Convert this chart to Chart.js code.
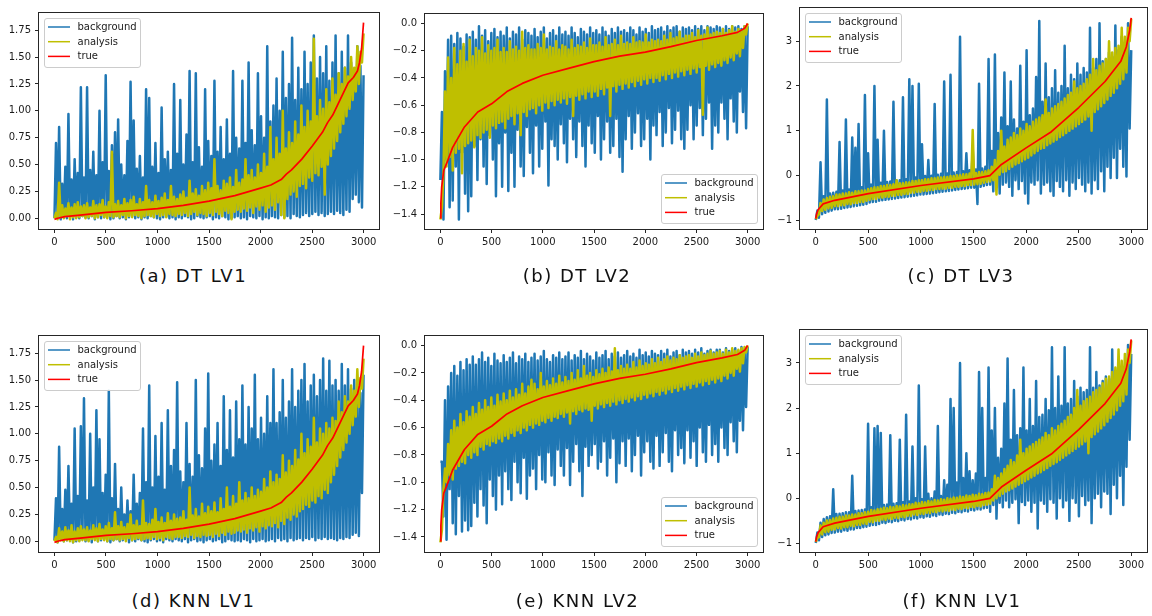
<!DOCTYPE html>
<html><head><meta charset="utf-8">
<script src="https://cdn.jsdelivr.net/npm/chart.js@4.4.1/dist/chart.umd.min.js"></script>
<style>
html,body{margin:0;padding:0;background:#fff;width:1152px;height:616px;overflow:hidden;position:relative;}
canvas{position:absolute;}
.cap{position:absolute;font-family:'DejaVu Sans',sans-serif;font-size:18px;line-height:18px;height:18px;white-space:nowrap;transform:translateX(-50%);color:#111;letter-spacing:1.5px;}
</style></head><body>
<script>
// ---------- tick labels / names ----------
const X_TICKS = [0, 500, 1000, 1500, 2000, 2500, 3000];
const LV1_TICKS = [0, 0.25, 0.5, 0.75, 1, 1.25, 1.5, 1.75];
const LV1_LABELS = ['0.00', '0.25', '0.50', '0.75', '1.00', '1.25', '1.50', '1.75'];
const LV2_TICKS = [-1.4, -1.2, -1.0, -0.8, -0.6, -0.4, -0.2, 0];
const LV2_LABELS = ['\u22121.4', '\u22121.2', '\u22121.0', '\u22120.8', '\u22120.6', '\u22120.4', '\u22120.2', '0.0'];
const LV3_TICKS = [-1, 0, 1, 2, 3];
const LV3_LABELS = ['\u22121', '0', '1', '2', '3'];
const SERIES_NAMES = ['background', 'analysis', 'true'];
const CAPTIONS = ['(a) DT LV1', '(b) DT LV2', '(c) DT LV3', '(d) KNN LV1', '(e) KNN LV2', '(f) KNN LV1'];

// ---------- true curves ----------
const TRUE_LV1_X = [0, 30, 100, 250, 500, 750, 1000, 1250, 1500, 1750, 2000, 2100, 2200, 2250, 2300, 2400, 2500, 2600, 2650, 2700, 2750, 2800, 2850, 2900, 2940, 2960, 2980, 2999];
const TRUE_LV1_Y = [-0.01, 0.0, 0.015, 0.03, 0.055, 0.07, 0.09, 0.12, 0.16, 0.21, 0.28, 0.31, 0.36, 0.41, 0.45, 0.55, 0.67, 0.80, 0.89, 0.96, 1.06, 1.16, 1.26, 1.31, 1.37, 1.45, 1.58, 1.82];
const TRUE_LV2_X = [0, 5, 13, 33, 60, 120, 235, 365, 500, 650, 800, 1000, 1250, 1500, 1750, 2000, 2250, 2500, 2750, 2900, 2970, 2999];
const TRUE_LV2_Y = [-1.43, -1.32, -1.20, -1.08, -1.03, -0.91, -0.76, -0.65, -0.59, -0.50, -0.44, -0.38, -0.33, -0.28, -0.24, -0.21, -0.17, -0.125, -0.09, -0.065, -0.035, 0.0];
const TRUE_LV3_X = [0, 8, 22, 70, 180, 500, 1000, 1500, 1655, 1765, 2000, 2240, 2500, 2750, 2900, 2952, 2985, 2999];
const TRUE_LV3_Y = [-0.96, -0.85, -0.76, -0.63, -0.55, -0.40, -0.22, -0.07, 0.0, 0.25, 0.62, 0.98, 1.52, 2.10, 2.55, 2.87, 3.25, 3.52];

// ---------- noisy series: alternating troughs (LOW) and crests (HIGH), read left to right ----------
// (a) DT LV1
const A_BG_LOW = [0.00,0.02,-0.01,0.01,0.00,0.02,-0.01,0.01,0.00,0.02, 0.01,0.00,0.02,-0.01,0.01,0.00,0.01,0.02,-0.01,0.00, 0.02,0.00,0.01,-0.01,0.01,0.02,0.00,0.01,-0.01,0.01, 0.00,0.02,0.01,0.00,-0.01,0.01,0.02,0.00,0.01,-0.01, 0.01,0.00,0.02,0.01,-0.01,0.00,0.02,0.01,0.00,0.01, 0.02,-0.01,0.01,0.00,0.02,0.01,-0.01,0.00,0.01,0.02, 0.00,0.01,-0.01,0.02,0.01,0.00,0.02,-0.01,0.01,0.00, 0.02,0.01,0.00,0.03,0.01,0.02,0.00,0.04,0.02,0.01, 0.03,0.05,0.02,0.04,0.06,0.03,0.05,0.02,0.04,0.06, 0.04,0.07,0.05,0.03,0.08,0.06,0.18,0.22,0.15,0.10];
const A_BG_HIGH = [0.70,0.85,0.32,0.48,0.97,0.36,0.55,0.42,1.22,0.38, 1.22,0.45,0.62,0.40,1.00,0.52,1.33,0.44,0.68,0.80, 0.92,0.50,0.40,0.72,1.27,0.91,0.46,0.58,0.38,1.20, 1.12,0.48,0.70,0.42,1.03,0.55,0.62,0.45,1.25,0.60, 1.10,0.50,0.78,1.37,0.52,1.35,0.66,0.48,1.20,0.72, 0.58,1.28,0.62,0.85,0.55,0.92,0.60,1.37,0.75,0.65, 1.28,0.70,1.45,0.82,0.68,1.35,0.95,0.75,1.60,0.90, 1.05,1.30,1.00,1.55,1.12,1.25,1.68,1.10,1.40,1.20, 1.55,1.25,1.45,1.70,1.30,1.50,1.35,1.60,1.28,1.45, 1.70,1.35,1.55,1.40,1.70,1.45,1.38,1.60,1.42,1.33];
const A_AN_LOW = [0.00,-0.01,0.01,0.00,0.02,-0.01,0.01,0.00,0.01,0.02, 0.00,0.01,0.02,0.00,0.01,0.03,0.01,0.00,0.02,0.01, 0.02,0.01,0.03,0.00,0.02,0.01,0.03,0.02,0.00,0.02, 0.03,0.02,0.01,0.04,0.02,0.03,0.01,0.04,0.03,0.02, 0.04,0.03,0.05,0.02,0.04,0.06,0.03,0.05,0.04,0.02, 0.05,0.03,0.06,0.04,0.02,0.07,0.05,-0.01,0.06,0.08, 0.06,0.09,0.07,0.10,0.05,0.11,0.08,0.12,0.06,0.10, 0.12,0.08,0.15,0.03,0.00,0.18,0.22,0.25,0.20,0.30, 0.32,0.28,0.38,0.35,0.42,0.40,0.48,0.22,0.50,0.58, 0.65,0.72,0.80,0.88,0.95,1.02,1.10,1.18,1.25,1.45];
const A_AN_HIGH = [0.05,0.33,0.12,0.09,0.14,0.10,0.13,0.15,0.11,0.12, 0.14,0.10,0.16,0.12,0.13,0.17,0.11,0.15,0.62,0.13, 0.16,0.12,0.18,0.14,0.17,0.20,0.13,0.18,0.15,0.30, 0.17,0.15,0.21,0.16,0.19,0.23,0.17,0.30,0.20,0.18, 0.22,0.25,0.19,0.35,0.23,0.27,0.21,0.30,0.26,0.33, 0.28,0.55,0.30,0.26,0.35,0.32,0.38,0.29,0.45,0.33, 0.36,0.55,0.40,0.45,0.38,0.50,0.42,0.60,0.48,0.85, 0.55,0.75,0.60,1.00,0.65,0.80,0.70,0.90,0.78,1.05, 0.85,1.00,0.90,1.67,0.95,1.10,1.02,1.20,1.08,1.30, 1.15,1.35,1.25,1.40,1.32,1.50,1.40,1.60,1.55,1.72];

// (b) DT LV2
const B_BG_LOW = [-1.15,-1.44,-1.00,-1.35,-1.30,-1.05,-1.44,-0.95,-1.25,-1.38, -1.27,-0.90,-1.15,-0.85,-1.05,-1.18,-0.82,-1.00,-1.27,-0.88, -1.20,-0.80,-1.23,-0.95,-1.20,-0.78,-1.05,-1.12,-0.76,-0.95, -1.10,-0.75,-1.05,-0.92,-0.72,-1.19,-0.85,-0.90,-1.00,-0.74, -0.88,-1.02,-0.70,-0.85,-0.98,-0.72,-0.90,-1.05,-0.75,-0.88, -0.95,-0.68,-1.00,-0.85,-0.72,-0.95,-0.90,-0.70,-0.98,-1.09, -0.85,-0.68,-0.92,-0.80,-0.66,-0.90,-0.85,-0.70,-1.00,-0.75, -0.82,-0.65,-0.90,-0.80,-0.62,-0.88,-0.78,-0.64,-0.85,-0.92, -0.78,-0.60,-0.85,-0.75,-0.62,-0.82,-0.70,-0.58,-0.92,-0.75, -0.80,-0.58,-0.70,-0.85,-0.55,-0.72,-0.80,-0.50,-0.65,-0.77];
const B_BG_HIGH = [-0.65,-0.35,-0.12,-0.09,-0.15,-0.07,-0.11,-0.17,-0.08,-0.10, -0.06,-0.12,-0.02,-0.09,-0.05,-0.13,-0.07,-0.04,-0.10,-0.06, -0.09,-0.03,-0.11,-0.06,-0.08,-0.03,-0.12,-0.05,-0.07,-0.09, -0.04,-0.10,-0.06,-0.03,-0.11,-0.07,-0.05,-0.09,-0.03,-0.08, -0.06,-0.09,-0.03,-0.07,-0.10,-0.04,-0.06,-0.08,-0.03,-0.07, -0.05,-0.08,-0.03,-0.06,-0.09,-0.04,-0.07,-0.03,-0.06,-0.05, -0.07,-0.03,-0.05,-0.08,-0.03,-0.06,-0.04,-0.07,-0.02,-0.05, -0.04,-0.03,-0.06,-0.02,-0.05,-0.03,-0.02,-0.06,-0.03,-0.04, -0.03,-0.05,-0.02,-0.04,-0.02,-0.05,-0.02,-0.03,-0.04,-0.02, -0.03,-0.04,-0.02,-0.04,-0.02,-0.03,-0.02,-0.04,-0.02,-0.02];
const B_AN_LOW = [-1.44,-1.10,-1.05,-0.98,-1.08,-0.95,-0.92,-1.10,-0.90,-0.88, -0.86,-0.91,-0.82,-0.84,-0.80,-0.78,-0.84,-0.75,-0.77,-0.73, -0.72,-0.77,-0.70,-0.68,-0.74,-0.66,-0.82,-0.65,-0.68,-0.63, -0.62,-0.66,-0.60,-0.64,-0.58,-0.62,-0.57,-0.60,-0.56,-0.58, -0.55,-0.59,-0.54,-0.68,-0.53,-0.56,-0.52,-0.55,-0.50,-0.54, -0.50,-0.53,-0.48,-0.52,-0.47,-0.68,-0.46,-0.50,-0.45,-0.48, -0.44,-0.47,-0.43,-0.46,-0.42,-0.45,-0.41,-0.44,-0.40,-0.43, -0.40,-0.42,-0.38,-0.41,-0.37,-0.40,-0.36,-0.39,-0.35,-0.38, -0.34,-0.37,-0.33,-0.36,-0.32,-0.67,-0.31,-0.34,-0.30,-0.32, -0.29,-0.31,-0.27,-0.29,-0.25,-0.27,-0.22,-0.24,-0.18,-0.08];
const B_AN_HIGH = [-1.35,-0.50,-0.25,-0.40,-0.18,-0.30,-0.20,-0.15,-0.28,-0.12, -0.24,-0.18,-0.20,-0.10,-0.22,-0.16,-0.20,-0.18,-0.12,-0.21, -0.18,-0.21,-0.13,-0.19,-0.17,-0.20,-0.06,-0.18,-0.16,-0.19, -0.19,-0.15,-0.18,-0.08,-0.19,-0.17,-0.18,-0.13,-0.19,-0.16, -0.17,-0.19,-0.12,-0.18,-0.16,-0.17,-0.14,-0.18,-0.11,-0.16, -0.16,-0.14,-0.17,-0.10,-0.16,-0.15,-0.12,-0.16,-0.09,-0.15, -0.14,-0.15,-0.10,-0.14,-0.13,-0.14,-0.08,-0.14,-0.12,-0.13, -0.12,-0.13,-0.09,-0.12,-0.07,-0.11,-0.10,-0.06,-0.11,-0.09, -0.09,-0.07,-0.10,-0.05,-0.09,-0.08,-0.03,-0.08,-0.07,-0.06, -0.07,-0.04,-0.07,-0.05,-0.02,-0.06,-0.04,-0.05,-0.02,0.00];

// (c) DT LV3
const C_BG_LOW = [-0.99,-0.94,-0.86,-0.83,-0.80,-0.78,-0.75,-0.75,-0.74,-0.72, -0.71,-0.70,-0.68,-0.67,-0.66,-0.65,-0.63,-0.60,-0.59,-0.58, -0.56,-0.55,-0.54,-0.53,-0.52,-0.51,-0.50,-0.49,-0.48,-0.47, -0.46,-0.45,-0.44,-0.42,-0.42,-0.41,-0.40,-0.39,-0.38,-0.37, -0.36,-0.35,-0.34,-0.33,-0.32,-0.31,-0.30,-0.29,-0.28,-0.27, -0.27,-0.63,-0.25,-0.23,-0.21,-0.20,-0.35,-0.25,-0.40,-0.20, -0.15,-0.25,-0.45,-0.10,-0.30,-0.12,-0.40,-0.62,-0.15,-0.20, -0.10,-0.40,-0.20,-0.15,-0.35,-0.45,-0.12,-0.25,-0.35,-0.10, -0.45,-0.15,-0.30,-0.05,-0.20,-0.35,-0.15,-0.40,-0.10,-0.30, 0.10,-0.35,0.20,-0.05,0.40,-0.05,0.60,0.20,-0.02,1.05];
const C_BG_HIGH = [-0.78,0.30,-0.46,1.70,-0.40,-0.38,-0.36,0.75,-0.33,1.25, -0.31,0.85,0.62,1.15,-0.26,1.80,0.50,-0.20,2.00,0.80, -0.16,1.00,-0.14,-0.13,1.65,-0.11,-0.10,1.75,-0.08,2.15, 2.00,-0.04,2.05,0.70,-0.01,0.35,0.00,1.60,0.02,0.04, 2.10,0.05,2.25,0.07,0.08,3.10,0.10,0.50,0.12,0.60, 0.14,2.05,0.16,0.20,2.60,0.55,2.70,0.95,1.30,2.30, 1.10,2.10,1.25,1.05,2.45,1.20,2.80,1.35,1.50,2.20, 3.45,1.65,2.50,1.75,1.95,2.35,1.85,2.00,2.90,1.95, 2.25,2.15,2.50,2.25,2.40,2.30,3.30,2.40,2.60,3.40, 2.55,2.60,2.75,2.65,3.35,2.80,3.10,2.90,3.40,2.80];
const C_AN_LOW = [-0.97,-0.86,-0.79,-0.76,-0.73,-0.72,-0.68,-0.68,-0.66,-0.66, -0.63,-0.64,-0.61,-0.61,-0.59,-0.59,-0.56,-0.54,-0.52,-0.52, -0.49,-0.49,-0.47,-0.47,-0.45,-0.45,-0.43,-0.43,-0.41,-0.41, -0.38,-0.38,-0.36,-0.36,-0.34,-0.34,-0.32,-0.32,-0.30,-0.30, -0.29,-0.29,-0.27,-0.27,-0.25,-0.25,-0.23,-0.23,-0.21,-0.21, -0.20,-0.19,-0.18,-0.16,-0.14,-0.13,-0.10,-0.42,0.02,0.08, 0.10,0.15,0.20,0.25,0.28,0.32,0.36,0.40,0.45,0.50, 0.55,0.60,0.62,0.68,0.72,0.76,0.80,0.86,0.90,0.95, 1.00,1.05,1.10,1.15,1.20,1.25,1.32,1.00,1.42,1.48, 1.55,1.62,1.70,1.78,1.85,1.95,2.05,2.15,2.30,3.00];
const C_AN_HIGH = [-0.90,-0.61,-0.53,-0.50,-0.47,-0.46,-0.42,-0.42,-0.40,-0.40, -0.37,-0.38,-0.35,-0.35,-0.33,-0.33,-0.30,-0.28,-0.26,-0.26, -0.23,-0.23,-0.21,-0.21,-0.19,-0.10,-0.17,-0.17,-0.15,-0.15, -0.12,-0.12,-0.10,-0.10,-0.08,-0.08,-0.06,-0.06,-0.04,-0.04, -0.03,-0.03,-0.01,-0.01,0.01,0.01,0.03,0.03,0.05,1.02, 0.06,0.08,0.08,0.10,0.12,0.20,0.35,0.55,1.00,0.65, 0.80,0.85,0.95,0.90,1.05,1.00,1.15,1.10,1.20,1.25, 1.30,1.35,1.70,1.40,1.50,1.55,1.60,1.65,1.72,1.80, 1.85,2.10,1.95,2.00,2.05,2.15,2.25,2.60,2.35,2.45, 2.50,2.60,3.00,2.75,2.85,2.90,3.30,3.10,3.30,3.50];

// (d) KNN LV1
const D_BG_LOW = [0.01,-0.01,0.02,0.00,0.01,0.02,-0.01,0.00,0.01,0.02, 0.00,0.01,-0.01,0.02,0.00,0.01,0.02,0.00,-0.01,0.01, 0.02,0.00,0.01,0.02,-0.01,0.01,0.00,0.02,0.01,0.00, -0.01,0.01,0.02,0.00,0.01,-0.01,0.02,0.01,0.00,0.02, 0.01,0.00,0.02,-0.01,0.01,0.02,0.00,0.01,-0.01,0.01, 0.02,0.00,0.01,0.02,-0.01,0.00,0.02,0.01,0.00,0.01, 0.00,0.02,0.01,-0.01,0.02,0.00,0.01,0.02,0.00,0.01, 0.02,0.00,0.03,0.01,0.02,0.00,0.03,0.01,0.02,0.03, 0.01,0.03,0.02,0.04,0.01,0.03,0.02,0.04,0.02,0.03, 0.02,0.01,0.03,0.02,0.04,0.03,0.06,0.08,0.05,0.45];
const D_BG_HIGH = [0.40,0.88,0.30,0.48,0.70,0.35,1.05,0.42,1.07,1.33, 0.38,1.00,0.50,1.22,0.95,0.45,0.62,1.40,0.40,0.72, 0.30,0.50,0.25,0.38,0.28,0.62,0.35,0.45,1.05,0.55, 1.45,0.50,0.98,0.60,1.10,0.48,1.22,0.70,0.85,1.48, 0.65,0.55,1.10,0.72,0.60,1.50,0.80,0.68,1.05,1.56, 0.75,0.90,1.10,0.70,1.35,0.85,1.22,0.78,1.30,0.95, 1.45,0.90,1.25,1.05,1.55,0.95,1.15,1.00,1.35,1.10, 1.60,1.10,1.20,1.50,1.15,1.30,1.60,1.25,1.40,1.50, 1.65,1.30,1.45,1.55,1.35,1.50,1.70,1.40,1.68,1.45, 1.50,1.40,1.65,1.45,1.60,1.42,1.50,1.45,1.38,1.55];
const D_AN_LOW = [0.00,-0.01,0.01,0.00,0.01,0.00,-0.01,0.01,0.00,0.01, 0.01,0.00,0.02,0.01,0.00,0.02,0.01,0.00,0.02,0.01, 0.02,0.01,0.02,0.00,0.03,0.01,0.02,0.03,0.01,0.02, 0.03,0.02,0.04,0.02,0.03,0.01,0.04,0.03,0.02,0.04, 0.04,0.03,0.05,0.04,0.06,0.03,0.05,0.04,0.06,0.05, 0.06,0.04,0.07,0.05,0.08,0.06,0.09,0.07,0.08,0.10, 0.09,0.11,0.08,0.12,0.10,0.13,0.09,0.14,0.12,0.15, 0.14,0.17,0.13,0.19,0.16,0.22,0.20,0.25,0.23,0.28, 0.30,0.34,0.32,0.38,0.36,0.42,0.40,0.48,0.45,0.55, 0.62,0.70,0.78,0.85,0.92,1.00,1.08,1.16,1.25,1.42];
const D_AN_HIGH = [0.04,0.12,0.09,0.13,0.10,0.15,0.09,0.12,0.14,0.11, 0.13,0.10,0.15,0.12,0.16,0.11,0.14,0.17,0.12,0.27, 0.14,0.18,0.13,0.16,0.25,0.15,0.19,0.14,0.38,0.17, 0.16,0.20,0.30,0.18,0.22,0.17,0.26,0.19,0.25,0.21, 0.22,0.28,0.20,0.50,0.24,0.30,0.23,0.35,0.26,0.32, 0.28,0.36,0.27,0.40,0.30,0.50,0.32,0.42,0.35,0.55, 0.38,0.45,0.40,0.50,0.42,0.48,0.46,0.58,0.50,0.65, 0.55,0.62,0.58,0.80,0.64,0.75,0.70,0.85,0.76,1.00, 0.82,0.95,0.88,1.15,0.92,1.05,1.00,1.10,1.05,1.15, 1.12,1.30,1.20,1.35,1.30,1.45,1.40,1.60,1.52,1.70];

// (e) KNN LV2
const E_BG_LOW = [-0.85,-1.25,-1.42,-1.05,-1.30,-1.38,-1.10,-1.36,-1.28,-1.35, -1.32,-1.15,-1.25,-1.05,-1.17,-1.30,-0.98,-1.10,-1.20,-0.95, -1.16,-0.92,-1.05,-1.13,-0.85,-1.00,-1.08,-0.82,-1.12,-0.95, -0.90,-1.05,-0.80,-0.98,-1.00,-0.78,-0.95,-1.02,-0.76,-0.88, -0.95,-0.75,-1.02,-0.85,-0.72,-0.92,-1.10,-0.74,-0.88,-0.80, -0.72,-0.90,-0.85,-0.70,-0.95,-0.82,-0.68,-1.00,-0.86,-0.70, -0.88,-0.68,-0.92,-0.80,-0.66,-0.95,-0.78,-0.70,-0.85,-0.90, -0.66,-0.88,-0.78,-0.64,-0.85,-0.92,-0.62,-0.80,-0.75,-0.86, -0.62,-0.82,-0.70,-0.88,-0.60,-0.78,-0.85,-0.58,-0.80,-0.72, -0.85,-0.60,-0.75,-0.80,-0.56,-0.70,-0.78,-0.55,-0.62,-0.45];
const E_BG_HIGH = [-0.85,-0.40,-0.30,-0.20,-0.15,-0.22,-0.12,-0.18,-0.10,-0.14, -0.08,-0.14,-0.10,-0.05,-0.12,-0.09,-0.15,-0.06,-0.11,-0.13, -0.07,-0.12,-0.09,-0.05,-0.13,-0.08,-0.10,-0.06,-0.12,-0.09, -0.06,-0.11,-0.08,-0.04,-0.10,-0.12,-0.07,-0.09,-0.05,-0.10, -0.08,-0.05,-0.11,-0.07,-0.09,-0.04,-0.10,-0.06,-0.08,-0.11, -0.05,-0.09,-0.07,-0.04,-0.10,-0.06,-0.08,-0.05,-0.09,-0.07, -0.04,-0.08,-0.06,-0.09,-0.03,-0.07,-0.05,-0.08,-0.04,-0.06, -0.07,-0.04,-0.06,-0.03,-0.08,-0.05,-0.04,-0.07,-0.03,-0.05, -0.04,-0.06,-0.03,-0.05,-0.02,-0.06,-0.04,-0.03,-0.05,-0.03, -0.03,-0.05,-0.02,-0.04,-0.03,-0.02,-0.04,-0.01,-0.03,-0.01];
const E_AN_LOW = [-1.44,-1.05,-1.00,-0.95,-0.98,-0.90,-0.88,-0.85,-0.86,-0.80, -0.82,-0.78,-0.80,-0.74,-0.76,-0.72,-0.73,-0.70,-0.71,-0.68, -0.70,-0.66,-0.68,-0.64,-0.66,-0.62,-0.64,-0.60,-0.62,-0.58, -0.60,-0.57,-0.58,-0.55,-0.56,-0.53,-0.55,-0.52,-0.53,-0.50, -0.52,-0.49,-0.57,-0.48,-0.50,-0.47,-0.48,-0.46,-0.47,-0.55, -0.44,-0.46,-0.43,-0.45,-0.42,-0.44,-0.41,-0.43,-0.40,-0.42, -0.39,-0.41,-0.38,-0.40,-0.37,-0.39,-0.36,-0.38,-0.35,-0.37, -0.34,-0.36,-0.33,-0.35,-0.32,-0.34,-0.31,-0.33,-0.30,-0.32, -0.29,-0.31,-0.28,-0.30,-0.27,-0.29,-0.26,-0.28,-0.25,-0.27, -0.24,-0.26,-0.22,-0.24,-0.20,-0.22,-0.17,-0.19,-0.13,-0.05];
const E_AN_HIGH = [-1.35,-0.90,-0.72,-0.62,-0.55,-0.60,-0.50,-0.56,-0.48,-0.52, -0.45,-0.50,-0.42,-0.47,-0.40,-0.45,-0.38,-0.44,-0.36,-0.41, -0.35,-0.40,-0.33,-0.38,-0.32,-0.36,-0.28,-0.35,-0.30,-0.25, -0.28,-0.32,-0.20,-0.30,-0.26,-0.29,-0.24,-0.28,-0.22,-0.27, -0.23,-0.26,-0.20,-0.25,-0.18,-0.24,-0.15,-0.22,-0.20,-0.23, -0.18,-0.21,-0.17,-0.20,-0.16,-0.19,-0.02,-0.18,-0.15,-0.17, -0.14,-0.17,-0.12,-0.16,-0.11,-0.15,-0.13,-0.14,-0.10,-0.13, -0.09,-0.12,-0.10,-0.08,-0.11,-0.09,-0.10,-0.07,-0.09,-0.08, -0.07,-0.09,-0.06,-0.08,-0.05,-0.07,-0.06,-0.04,-0.06,-0.05, -0.04,-0.06,-0.03,-0.05,-0.02,-0.04,-0.03,-0.02,-0.01,0.00];

// (f) KNN "LV1"
const F_BG_LOW = [-0.99,-0.93,-0.86,-0.82,-0.80,-0.77,-0.76,-0.74,-0.74,-0.71, -0.72,-0.69,-0.69,-0.66,-0.66,-0.64,-0.63,-0.61,-0.59,-0.59, -0.57,-0.54,-0.55,-0.52,-0.53,-0.50,-0.51,-0.48,-0.49,-0.46, -0.47,-0.44,-0.45,-0.42,-0.43,-0.40,-0.41,-0.38,-0.39,-0.36, -0.37,-0.34,-0.35,-0.32,-0.33,-0.30,-0.31,-0.28,-0.29,-0.26, -0.27,-0.24,-0.25,-0.22,-0.21,-0.30,-0.15,-0.45,-0.10,-0.20, -0.05,-0.20,-0.10,-0.02,-0.55,-0.08,-0.15,-0.05,-0.30,-0.10, -0.67,-0.05,-0.12,-0.30,-0.02,-0.10,-0.45,0.00,-0.20,-0.05, -0.50,0.00,-0.10,-0.40,0.05,-0.15,-0.05,-0.55,0.00,0.10, -0.20,0.15,0.10,-0.35,0.30,0.00,0.50,-0.15,0.70,1.30];
const F_BG_HIGH = [-0.76,-0.54,-0.46,-0.42,-0.40,0.20,-0.35,-0.34,-0.33,-0.31, -0.31,0.50,-0.28,-0.27,-0.26,-0.25,1.65,-0.20,1.55,1.60, 1.45,-0.15,-0.14,1.40,-0.12,-0.11,1.30,-0.09,1.85,-0.07, 1.15,0.00,2.50,-0.02,1.15,0.10,0.00,0.15,1.60,0.05, 0.40,0.30,2.20,2.00,0.35,3.00,0.45,1.00,0.60,0.40, 0.55,2.80,2.00,0.45,2.90,1.50,2.00,0.90,1.10,2.10, 3.10,1.30,2.40,1.40,1.55,2.90,1.50,2.20,1.60,2.60, 1.80,1.85,2.20,1.95,3.35,2.00,2.70,2.05,3.35,2.10, 2.20,2.60,2.25,2.45,2.35,2.40,3.35,2.45,2.80,2.50, 2.60,2.70,2.65,3.30,2.75,3.00,2.80,2.90,3.40,3.20];
const F_AN_LOW = [-0.97,-0.86,-0.80,-0.75,-0.74,-0.70,-0.69,-0.66,-0.67,-0.64, -0.64,-0.61,-0.62,-0.59,-0.59,-0.56,-0.57,-0.52,-0.53,-0.50, -0.50,-0.47,-0.48,-0.45,-0.46,-0.43,-0.44,-0.41,-0.42,-0.39, -0.39,-0.36,-0.37,-0.34,-0.35,-0.32,-0.33,-0.30,-0.31,-0.28, -0.29,-0.27,-0.28,-0.25,-0.26,-0.23,-0.24,-0.21,-0.22,-0.19, -0.20,-0.17,-0.18,-0.15,-0.14,-0.12,-0.05,0.00,0.05,0.10, 0.15,0.18,0.22,0.26,0.30,0.34,0.38,0.42,0.46,0.50, 0.55,0.58,0.63,0.67,0.72,0.76,0.80,0.85,0.90,0.95, 1.00,1.05,1.10,1.15,1.20,1.26,1.00,1.36,1.42,1.48, 1.55,1.62,1.70,1.78,1.86,1.95,2.05,2.15,2.30,3.00];
const F_AN_HIGH = [-0.88,-0.60,-0.54,-0.49,-0.48,-0.45,-0.43,-0.41,-0.41,-0.38, -0.38,-0.36,-0.36,-0.33,-0.33,-0.31,-0.30,-0.26,-0.27,-0.24, -0.23,-0.21,-0.22,-0.19,-0.20,-0.17,-0.18,-0.15,-0.16,-0.13, -0.13,-0.10,-0.11,-0.08,-0.09,-0.06,-0.07,-0.04,-0.05,-0.02, -0.03,0.00,-0.01,0.02,0.01,0.04,0.03,0.06,0.05,0.08, 0.07,0.10,0.09,0.12,0.13,0.20,0.50,0.45,0.55,0.65, 0.72,0.85,0.80,0.95,1.30,1.00,1.10,1.15,1.20,1.25, 1.30,1.35,1.45,1.40,1.55,1.50,1.60,1.65,1.72,1.80, 1.85,2.00,2.40,2.05,2.15,2.20,2.25,2.35,2.40,2.45, 2.55,2.65,2.70,2.80,2.90,3.30,3.05,3.20,3.30,3.50];

// ---------- helpers (index -> sample position) ----------
const LAST_INDEX = 2999;
function zigzag(lows, highs) {
  const seq = [];
  lows.forEach((v, i) => { seq.push(v); seq.push(highs[i]); });
  const n = seq.length;
  return seq.map((v, i) => ({ x: i * LAST_INDEX / (n - 1), y: v }));
}
function pair(xs, ys) { return xs.map((x, i) => ({ x: x, y: ys[i] })); }
const COLORS = { background: '#1f77b4', analysis: '#bfbf00', true: '#ff0000' };

const PANELS = [
  { area: [39, 9, 379, 229], y: [-0.1, 1.91], yt: LV1_TICKS, yl: LV1_LABELS, legend: 'ul', bg: [A_BG_LOW, A_BG_HIGH], an: [A_AN_LOW, A_AN_HIGH], tx: TRUE_LV1_X, ty: TRUE_LV1_Y, cap: CAPTIONS[0], cpos: [193, 266.5] },
  { area: [425, 10, 763, 229], y: [-1.51, 0.07], yt: LV2_TICKS, yl: LV2_LABELS, legend: 'lr', bg: [B_BG_LOW, B_BG_HIGH], an: [B_AN_LOW, B_AN_HIGH], tx: TRUE_LV2_X, ty: TRUE_LV2_Y, cap: CAPTIONS[1], cpos: [577, 266.5] },
  { area: [800, 4, 1147, 229], y: [-1.19, 3.74], yt: LV3_TICKS, yl: LV3_LABELS, legend: 'ul', bg: [C_BG_LOW, C_BG_HIGH], an: [C_AN_LOW, C_AN_HIGH], tx: TRUE_LV3_X, ty: TRUE_LV3_Y, cap: CAPTIONS[2], cpos: [961, 266.5] },
  { area: [39, 332, 379, 552], y: [-0.1, 1.91], yt: LV1_TICKS, yl: LV1_LABELS, legend: 'ul', bg: [D_BG_LOW, D_BG_HIGH], an: [D_AN_LOW, D_AN_HIGH], tx: TRUE_LV1_X, ty: TRUE_LV1_Y, cap: CAPTIONS[3], cpos: [193.5, 591.5] },
  { area: [425, 332, 763, 552], y: [-1.51, 0.07], yt: LV2_TICKS, yl: LV2_LABELS, legend: 'lr', bg: [E_BG_LOW, E_BG_HIGH], an: [E_AN_LOW, E_AN_HIGH], tx: TRUE_LV2_X, ty: TRUE_LV2_Y, cap: CAPTIONS[4], cpos: [577.5, 591.5] },
  { area: [800, 326, 1147, 552], y: [-1.19, 3.73], yt: LV3_TICKS, yl: LV3_LABELS, legend: 'ul', bg: [F_BG_LOW, F_BG_HIGH], an: [F_AN_LOW, F_AN_HIGH], tx: TRUE_LV3_X, ty: TRUE_LV3_Y, cap: CAPTIONS[5], cpos: [962, 591.5] }
];

function framePlugin(p) {
  return {
    id: 'frameLegend',
    afterDatasetsDraw(chart) {
      const a = chart.chartArea, ctx = chart.ctx;
      ctx.save();
      ctx.strokeStyle = '#262626'; ctx.lineWidth = 1;
      ctx.strokeRect(a.left - 0.5, a.top - 0.5, a.right - a.left + 1, a.bottom - a.top + 1);
      const lw = 96, lh = 49;
      let bx, by;
      if (p.legend === 'ul') { bx = a.left + 5; by = a.top + 5; }
      else { bx = a.right - 6 - lw; by = a.bottom - 6 - lh; }
      bx = Math.round(bx) + 0.5; by = Math.round(by) + 0.5;
      ctx.fillStyle = 'rgba(255,255,255,0.8)';
      ctx.strokeStyle = '#cccccc';
      ctx.beginPath();
      ctx.roundRect(bx, by, lw, lh, 2.5);
      ctx.fill(); ctx.stroke();
      ctx.font = '10px "DejaVu Sans"';
      ctx.textBaseline = 'middle';
      SERIES_NAMES.forEach((name, k) => {
        const yy = by + 8.5 + k * 14.7;
        ctx.strokeStyle = COLORS[name]; ctx.lineWidth = 1.5;
        ctx.beginPath(); ctx.moveTo(bx + 3.5, yy); ctx.lineTo(bx + 25.5, yy); ctx.stroke();
        ctx.fillStyle = '#1a1a1a';
        ctx.fillText(name, bx + 33, yy + 0.5);
      });
      ctx.restore();
    }
  };
}

PANELS.forEach(p => {
  const [L, T, R, B] = p.area;
  const PAD_T = 6, PAD_R = 6, Y_W = 45, X_H = 30;
  const w = R - L + Y_W + PAD_R, h = B - T + PAD_T + X_H;
  const cv = document.createElement('canvas');
  cv.width = w; cv.height = h;
  cv.style.left = (L - Y_W) + 'px'; cv.style.top = (T - PAD_T) + 'px';
  cv.style.width = w + 'px'; cv.style.height = h + 'px';
  document.body.appendChild(cv);
  const font = { family: 'DejaVu Sans', size: 10 };
  const base = { pointRadius: 0, pointHoverRadius: 0, borderWidth: 2.5, tension: 0, fill: false, borderJoinStyle: 'round' };
  new Chart(cv.getContext('2d'), {
    type: 'line',
    data: { datasets: [
      Object.assign({ label: SERIES_NAMES[2], data: pair(p.tx, p.ty), borderColor: COLORS.true }, base, { borderWidth: 1.7 }),
      Object.assign({ label: SERIES_NAMES[1], data: zigzag(p.an[0], p.an[1]), borderColor: COLORS.analysis }, base),
      Object.assign({ label: SERIES_NAMES[0], data: zigzag(p.bg[0], p.bg[1]), borderColor: COLORS.background }, base)
    ]},
    options: {
      responsive: false, animation: false, devicePixelRatio: 1, events: [],
      layout: { padding: { top: PAD_T, right: PAD_R, left: 0, bottom: 0 } },
      plugins: { legend: { display: false }, tooltip: { enabled: false } },
      scales: {
        x: {
          type: 'linear', min: -150, max: 3149,
          afterBuildTicks: s => { s.ticks = X_TICKS.map(v => ({ value: v })); },
          afterFit: s => { s.height = X_H; },
          ticks: { autoSkip: false, maxRotation: 0, minRotation: 0, font: font, color: '#1a1a1a', padding: 3, callback: v => String(v) },
          grid: { drawOnChartArea: false, drawTicks: true, tickLength: 4, color: '#262626', tickWidth: 1 },
          border: { display: false }
        },
        y: {
          type: 'linear', min: p.y[0], max: p.y[1],
          afterBuildTicks: s => { s.ticks = p.yt.map(v => ({ value: v })); },
          afterFit: s => { s.width = Y_W; },
          ticks: { autoSkip: false, font: font, color: '#1a1a1a', padding: 4, callback: (v, i) => p.yl[i] },
          grid: { drawOnChartArea: false, drawTicks: true, tickLength: 4, color: '#262626', tickWidth: 1 },
          border: { display: false }
        }
      }
    },
    plugins: [framePlugin(p)]
  });
  const d = document.createElement('div');
  d.className = 'cap';
  d.textContent = p.cap;
  d.style.left = p.cpos[0] + 'px';
  d.style.top = p.cpos[1] + 'px';
  document.body.appendChild(d);
});
</script>
</body></html>
